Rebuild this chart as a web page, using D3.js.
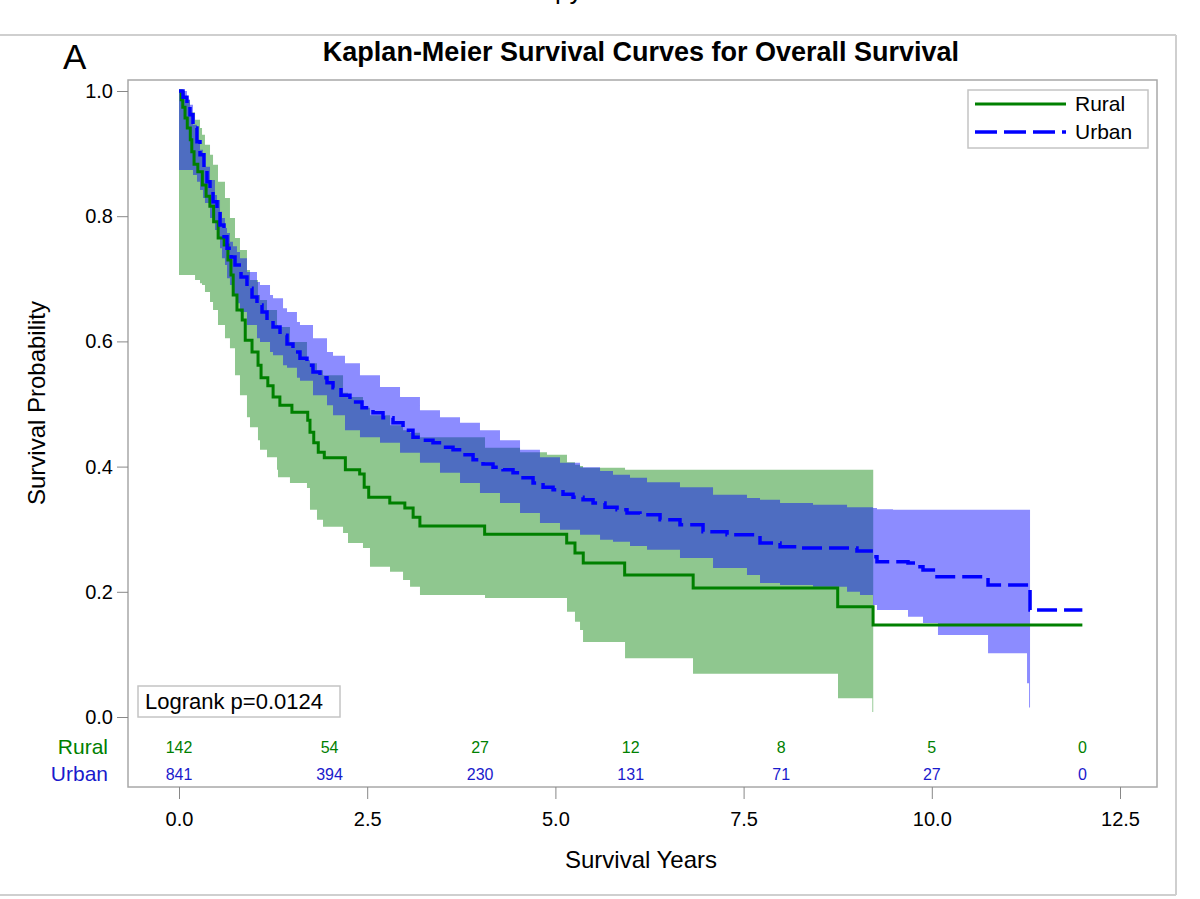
<!DOCTYPE html>
<html><head><meta charset="utf-8">
<script src="https://cdn.jsdelivr.net/npm/d3@7"></script>
<style>body{margin:0;background:#fff;} svg{display:block;font-family:"Liberation Sans",Arial,sans-serif;}</style>
</head><body>
<svg id="c" width="1200" height="899"></svg>
<script>
// ---------------- data ----------------
const xTicks = [0, 2.5, 5, 7.5, 10, 12.5];
const yTicks = [0, 0.2, 0.4, 0.6, 0.8, 1.0];
const atRiskTimes = [0, 2, 4, 6, 8, 10, 12];
const ruralAtRisk = [142, 54, 27, 12, 8, 5, 0];
const urbanAtRisk = [841, 394, 230, 131, 71, 27, 0];
const groups = ["Rural", "Urban"];

// Kaplan-Meier step points [time, survival]
const ruralKM = [[0,1.000],[0.03,0.986],[0.05,0.974],[0.08,0.957],[0.11,0.941],[0.15,0.922],[0.17,0.903],[0.20,0.883],[0.25,0.871],[0.31,0.850],[0.36,0.832],[0.41,0.816],[0.46,0.791],[0.52,0.765],[0.60,0.754],[0.65,0.730],[0.69,0.706],[0.72,0.674],[0.77,0.650],[0.84,0.634],[0.88,0.602],[0.97,0.583],[1.05,0.562],[1.09,0.542],[1.18,0.529],[1.25,0.511],[1.34,0.498],[1.50,0.487],[1.71,0.474],[1.74,0.455],[1.79,0.438],[1.85,0.423],[1.93,0.414],[2.21,0.395],[2.40,0.388],[2.46,0.367],[2.52,0.351],[2.80,0.342],[3.00,0.334],[3.11,0.319],[3.20,0.305],[4.06,0.292],[5.15,0.278],[5.26,0.262],[5.37,0.246],[5.92,0.227],[6.83,0.206],[8.75,0.176],[9.22,0.147],[12.0,0.147]];
const urbanKM = [[0,1.000],[0.053,0.990],[0.106,0.978],[0.146,0.962],[0.186,0.941],[0.239,0.919],[0.279,0.898],[0.332,0.877],[0.372,0.855],[0.412,0.839],[0.452,0.823],[0.505,0.804],[0.545,0.786],[0.598,0.767],[0.638,0.749],[0.691,0.735],[0.744,0.722],[0.824,0.703],[0.903,0.685],[0.970,0.671],[1.036,0.658],[1.103,0.647],[1.169,0.637],[1.249,0.623],[1.342,0.610],[1.435,0.596],[1.514,0.583],[1.607,0.573],[1.700,0.562],[1.780,0.551],[1.873,0.542],[1.966,0.534],[2.046,0.526],[2.152,0.514],[2.271,0.503],[2.431,0.494],[2.577,0.486],[2.710,0.478],[2.843,0.470],[2.976,0.458],[3.108,0.447],[3.241,0.442],[3.374,0.438],[3.507,0.431],[3.640,0.427],[3.773,0.419],[3.906,0.411],[4.038,0.404],[4.171,0.399],[4.304,0.395],[4.437,0.390],[4.570,0.382],[4.703,0.374],[4.836,0.367],[4.969,0.363],[5.101,0.356],[5.234,0.351],[5.367,0.347],[5.500,0.342],[5.659,0.335],[5.819,0.331],[5.951,0.326],[6.124,0.323],[6.390,0.315],[6.655,0.307],[6.961,0.296],[7.280,0.291],[7.718,0.278],[7.984,0.272],[8.209,0.270],[9.006,0.265],[9.219,0.256],[9.272,0.248],[9.684,0.246],[9.817,0.240],[9.883,0.235],[10.069,0.224],[10.747,0.211],[11.305,0.171],[12.0,0.171]];

// Confidence bands [time, lower, upper]
const ruralBand = [[0,0.706,1.000],[0.080,0.706,0.986],[0.146,0.706,0.966],[0.213,0.698,0.954],[0.279,0.693,0.941],[0.306,0.690,0.930],[0.345,0.679,0.914],[0.412,0.663,0.898],[0.452,0.650,0.882],[0.518,0.626,0.855],[0.611,0.605,0.829],[0.677,0.589,0.797],[0.744,0.546,0.765],[0.810,0.514,0.746],[0.903,0.479,0.714],[0.943,0.463,0.698],[1.049,0.442,0.674],[1.076,0.427,0.666],[1.169,0.415,0.650],[1.302,0.395,0.626],[1.315,0.383,0.623],[1.474,0.374,0.599],[1.700,0.366,0.570],[1.740,0.331,0.565],[1.833,0.315,0.554],[1.913,0.304,0.546],[2.179,0.294,0.518],[2.245,0.278,0.511],[2.444,0.270,0.494],[2.537,0.240,0.482],[2.803,0.232,0.466],[2.976,0.219,0.458],[3.069,0.208,0.454],[3.201,0.195,0.447],[4.065,0.190,0.430],[4.530,0.190,0.423],[4.888,0.190,0.419],[5.154,0.168,0.407],[5.260,0.152,0.403],[5.327,0.139,0.401],[5.367,0.120,0.398],[5.925,0.094,0.395],[6.828,0.069,0.395],[8.754,0.030,0.395],[9.210,0.008,0.395],[9.222,0.008,0.395]];
const urbanBand = [[0,0.874,1.000],[0.106,0.874,0.986],[0.146,0.874,0.978],[0.186,0.866,0.946],[0.239,0.855,0.922],[0.279,0.842,0.906],[0.319,0.829,0.893],[0.345,0.821,0.879],[0.412,0.797,0.858],[0.478,0.778,0.834],[0.505,0.765,0.826],[0.545,0.749,0.807],[0.571,0.733,0.797],[0.611,0.722,0.781],[0.638,0.701,0.773],[0.677,0.690,0.759],[0.717,0.674,0.752],[0.770,0.661,0.743],[0.810,0.647,0.733],[0.903,0.626,0.711],[1.036,0.605,0.695],[1.076,0.599,0.690],[1.209,0.583,0.674],[1.249,0.578,0.669],[1.382,0.562,0.653],[1.435,0.558,0.647],[1.567,0.542,0.631],[1.607,0.537,0.626],[1.780,0.514,0.605],[1.966,0.498,0.583],[2.046,0.482,0.577],[2.205,0.458,0.565],[2.404,0.447,0.546],[2.670,0.438,0.527],[2.936,0.422,0.511],[3.201,0.406,0.490],[3.467,0.390,0.479],[3.733,0.374,0.470],[3.998,0.358,0.458],[4.264,0.342,0.442],[4.530,0.326,0.427],[4.795,0.310,0.415],[5.061,0.299,0.406],[5.327,0.291,0.399],[5.593,0.283,0.393],[5.765,0.280,0.387],[5.991,0.273,0.382],[6.217,0.267,0.375],[6.655,0.254,0.367],[7.094,0.238,0.355],[7.545,0.227,0.350],[7.718,0.214,0.347],[7.984,0.211,0.342],[8.422,0.208,0.339],[8.874,0.200,0.335],[9.046,0.195,0.335],[9.219,0.179,0.334],[9.272,0.171,0.332],[9.485,0.171,0.331],[9.684,0.160,0.331],[9.883,0.150,0.331],[10.082,0.131,0.331],[10.747,0.102,0.331],[11.265,0.054,0.331],[11.292,0.015,0.331],[11.305,0.015,0.331]];

// ---------------- layout ----------------
const svg = d3.select("#c");
const frame = {left:128, right:1157, top:80, bottom:787};
const x = d3.scaleLinear().domain([0, 12.5]).range([179, 1120]);
const y = d3.scaleLinear().domain([0, 1]).range([717, 91]);
const GREEN = "#008000", BLUE = "#0000ff";

// page borders
svg.append("line").attr("x1",0).attr("x2",1176).attr("y1",35).attr("y2",35).attr("stroke","#cfcfcf").attr("stroke-width",2);
svg.append("line").attr("x1",1176).attr("x2",1176).attr("y1",35).attr("y2",895).attr("stroke","#cfcfcf").attr("stroke-width",2);
svg.append("line").attr("x1",0).attr("x2",1176).attr("y1",895).attr("y2",895).attr("stroke","#cfcfcf").attr("stroke-width",2);
svg.append("text").attr("x",555).attr("y",-1).attr("font-size",26).attr("fill","#000").text("py");

svg.append("text").attr("x",63).attr("y",69).attr("font-size",35).text("A");
svg.append("text").attr("x",641).attr("y",61).attr("text-anchor","middle").attr("font-size",27).attr("font-weight","bold").text("Kaplan-Meier Survival Curves for Overall Survival");

svg.append("defs").append("clipPath").attr("id","clip").append("rect")
  .attr("x",frame.left).attr("y",frame.top).attr("width",frame.right-frame.left).attr("height",frame.bottom-frame.top);
const g = svg.append("g").attr("clip-path","url(#clip)");

const area = d3.area().curve(d3.curveStepAfter).x(d=>x(d[0])).y0(d=>y(d[1])).y1(d=>y(d[2]));
const line = d3.line().curve(d3.curveStepAfter).x(d=>x(d[0])).y(d=>y(d[1]));

g.append("path").datum(ruralBand).attr("d",area).attr("fill",GREEN).attr("fill-opacity",0.44);
g.append("path").datum(urbanBand).attr("d",area).attr("fill",BLUE).attr("fill-opacity",0.45);
g.append("path").datum(ruralKM).attr("d",line).attr("fill","none").attr("stroke",GREEN).attr("stroke-width",3);
g.append("path").datum(urbanKM).attr("d",line).attr("fill","none").attr("stroke",BLUE).attr("stroke-width",3.5).attr("stroke-dasharray","20,7");

// frame
svg.append("rect").attr("x",frame.left).attr("y",frame.top).attr("width",frame.right-frame.left).attr("height",frame.bottom-frame.top)
  .attr("fill","none").attr("stroke","#a8a8a8").attr("stroke-width",1.5);

// y axis
const yAxis = svg.append("g").attr("transform",`translate(${frame.left},0)`)
  .call(d3.axisLeft(y).tickValues(yTicks).tickFormat(d3.format(".1f")).tickSize(11).tickPadding(4));
yAxis.select(".domain").remove();
yAxis.selectAll(".tick line").attr("stroke","#888");
yAxis.selectAll(".tick text").attr("font-size",20).attr("font-family","Liberation Sans, Arial").attr("fill","#000");

// x axis
const xAxis = svg.append("g").attr("transform",`translate(0,${frame.bottom})`)
  .call(d3.axisBottom(x).tickValues(xTicks).tickFormat(d3.format(".1f")).tickSize(12).tickPadding(13));
xAxis.select(".domain").remove();
xAxis.selectAll(".tick line").attr("stroke","#888");
xAxis.selectAll(".tick text").attr("font-size",20).attr("font-family","Liberation Sans, Arial").attr("fill","#000");

svg.append("text").attr("x",641).attr("y",868).attr("text-anchor","middle").attr("font-size",24).text("Survival Years");
svg.append("text").attr("transform","translate(45,403) rotate(-90)").attr("text-anchor","middle").attr("font-size",24).text("Survival Probability");

// at risk table
const rows = [{name:groups[0], vals:ruralAtRisk, col:GREEN, y:747},{name:groups[1], vals:urbanAtRisk, col:"#1a1acc", y:774}];
rows.forEach(r=>{
  svg.append("text").attr("x",108).attr("y",r.y).attr("dy","0.35em").attr("text-anchor","end").attr("font-size",21).attr("fill",r.col).text(r.name);
  svg.selectAll(null).data(atRiskTimes).enter().append("text")
    .attr("x",(d)=>x(d)).attr("y",r.y).attr("dy","0.35em").attr("text-anchor","middle").attr("font-size",16).attr("fill",r.col)
    .text((d,i)=>r.vals[i]);
});

// logrank box
svg.append("rect").attr("x",138).attr("y",686).attr("width",202).attr("height",31).attr("fill","#fff").attr("stroke","#c4c4c4").attr("stroke-width",1.5);
svg.append("text").attr("x",145).attr("y",709).attr("font-size",22).text("Logrank p=0.0124");

// legend
const lg = svg.append("g");
lg.append("rect").attr("x",968).attr("y",90).attr("width",180).attr("height",58).attr("fill","#fff").attr("stroke","#c4c4c4").attr("stroke-width",1.5);
lg.append("line").attr("x1",975).attr("x2",1066).attr("y1",104).attr("y2",104).attr("stroke",GREEN).attr("stroke-width",3);
lg.append("line").attr("x1",975).attr("x2",1066).attr("y1",132).attr("y2",132).attr("stroke",BLUE).attr("stroke-width",3.5).attr("stroke-dasharray","22,7");
lg.append("text").attr("x",1075).attr("y",111).attr("font-size",21).text(groups[0]);
lg.append("text").attr("x",1075).attr("y",139).attr("font-size",21).text(groups[1]);
</script>
</body></html>
